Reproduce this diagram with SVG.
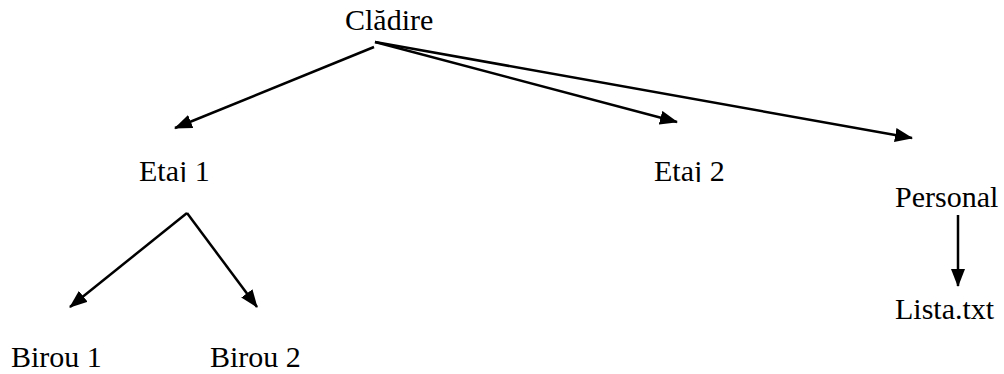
<svg xmlns="http://www.w3.org/2000/svg" width="1004" height="374" viewBox="0 0 1004 374">
<style>
text{font-family:"Liberation Serif","Times New Roman",serif;font-size:30px;fill:#000}
.c{stroke:#000;stroke-width:2.5;fill:none;marker-end:url(#ah)}
</style>
<defs>
<marker id="ah" markerUnits="userSpaceOnUse" markerWidth="18" markerHeight="14" refX="17" refY="7" orient="auto" viewBox="0 0 18 14">
<path d="M0,0 L18,7 L0,14 Z" fill="#000"/>
</marker>
<clipPath id="cut" clipPathUnits="userSpaceOnUse"><rect x="0" y="0" width="1004" height="182"/></clipPath>
</defs>
<rect width="1004" height="374" fill="#fff"/>
<g id="connectors">
<line class="c" x1="374" y1="47" x2="175" y2="128"/>
<line class="c" x1="375" y1="42" x2="677" y2="122"/>
<line class="c" x1="375" y1="42" x2="912" y2="138"/>
<line class="c" x1="187" y1="213" x2="70" y2="307"/>
<line class="c" x1="187" y1="213" x2="257" y2="307"/>
<line class="c" x1="958" y1="215" x2="958" y2="286"/>
</g>
<g id="cladire"><text x="345" y="30">Clădire</text></g>
<g id="etaj1" clip-path="url(#cut)"><text x="139" y="181">Etaj 1</text></g>
<g id="etaj2" clip-path="url(#cut)"><text x="654" y="181">Etaj 2</text></g>
<g id="personal"><text x="895" y="207">Personal</text></g>
<g id="birou1"><text x="11" y="367">Birou 1</text></g>
<g id="birou2"><text x="210" y="367">Birou 2</text></g>
<g id="lista"><text x="895" y="319">Lista.txt</text></g>
</svg>
